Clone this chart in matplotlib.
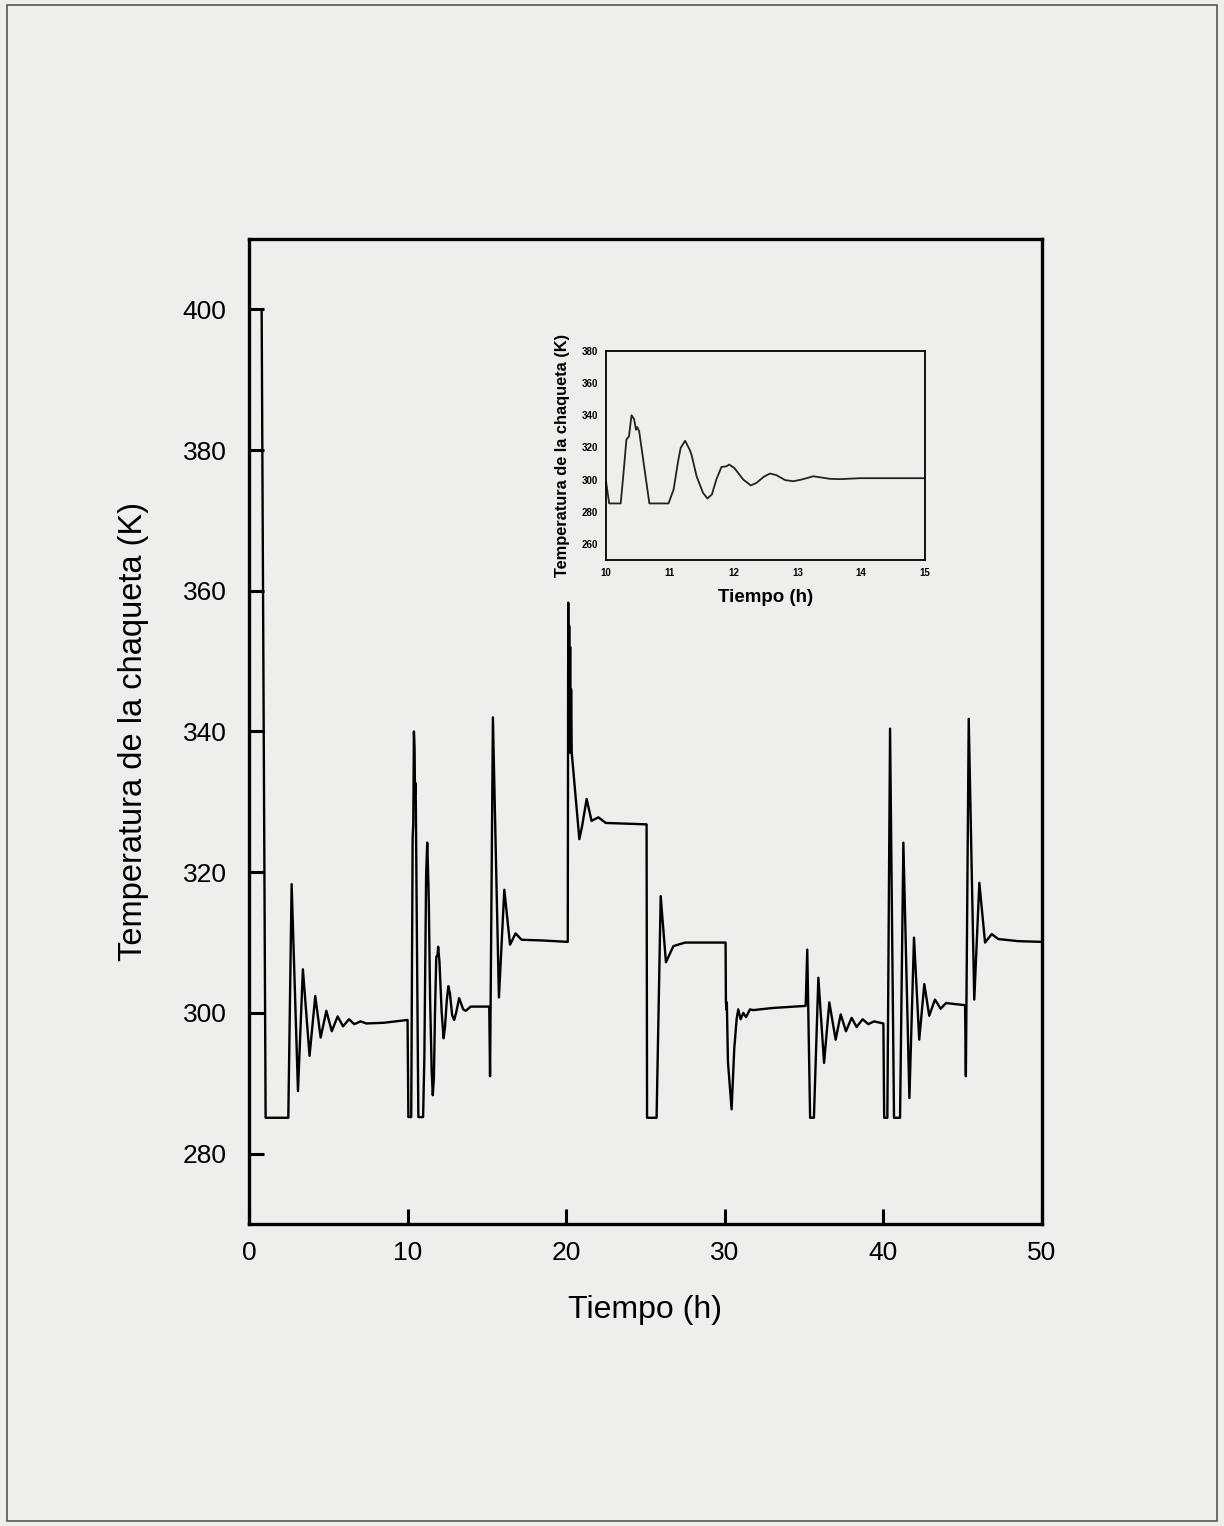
import matplotlib
matplotlib.use("Agg")
import matplotlib.pyplot as plt
from matplotlib.patches import Rectangle

plt.rcParams['font.family'] = ['Liberation Sans', 'DejaVu Sans']

# temperatura de la chaqueta (K), por tramos de 5 h
tiempo = [
    0.0, 0.8, 1.05, 2.48, 2.69, 3.09, 3.40, 3.82, 4.18, 4.52, 4.88, 5.22, 5.59, 5.93, 6.31, 6.64, 7.04, 7.4, 8.5, 10.0,
    10.05, 10.23, 10.27, 10.32, 10.36, 10.40, 10.44, 10.47, 10.49, 10.52, 10.68, 10.98, 11.06, 11.13, 11.17, 11.24,
    11.31, 11.34, 11.42, 11.52, 11.59, 11.66, 11.73, 11.81, 11.89, 11.93, 12.01, 12.15, 12.27, 12.36, 12.47, 12.57,
    12.67, 12.81, 12.94, 13.07, 13.25, 13.35, 13.51, 13.67, 13.98, 15.15,
    15.2, 15.38, 15.76, 16.1, 16.46, 16.81, 17.19, 18.5, 20.1,
    20.13, 20.16, 20.19, 20.22, 20.25, 20.28, 20.31, 20.35, 20.83, 21.0, 21.29, 21.6, 22.03, 22.5, 25.07,
    25.1, 25.7, 25.96, 26.29, 26.76, 27.5, 30.05,
    30.07, 30.1, 30.13, 30.2, 30.43, 30.6, 30.75, 30.85, 31.0, 31.17, 31.34, 31.59, 31.8, 33.0, 35.1,
    35.2, 35.38, 35.62, 35.9, 36.26, 36.59, 36.99, 37.31, 37.64, 38.0, 38.31, 38.69, 39.05, 39.41, 40.0,
    40.05, 40.25, 40.42, 40.67, 41.05, 41.26, 41.64, 41.93, 42.26, 42.58, 42.89, 43.25, 43.61, 43.95, 45.15,
    45.2, 45.38, 45.73, 46.05, 46.41, 46.83, 47.25, 48.5, 50.0,
]
temperatura = [
    400.0, 400.0, 285.1, 285.1, 318.3, 288.9, 306.2, 293.9, 302.4, 296.5, 300.3, 297.4, 299.5, 298.1, 299.1, 298.4, 298.8, 298.5, 298.6, 299.0,
    285.2, 285.2, 302.0, 324.9, 326.9, 340.0, 337.7, 331.0, 332.7, 330.0, 285.2, 285.2, 293.9, 311.4, 319.7, 324.2,
    318.7, 315.6, 302.1, 291.8, 288.3, 290.8, 300.1, 307.9, 308.3, 309.4, 307.3, 300.1, 296.4, 298.0, 301.7, 303.8,
    302.8, 299.7, 299.0, 300.1, 302.1, 301.5, 300.5, 300.3, 300.9, 300.9,
    291.0, 342.0, 302.2, 317.5, 309.7, 311.3, 310.4, 310.3, 310.1,
    358.3, 337.0, 355.0, 338.0, 352.0, 337.0, 346.0, 337.0, 324.7, 326.5, 330.4, 327.3, 327.8, 327.0, 326.8,
    285.1, 285.1, 316.6, 307.2, 309.5, 310.0, 310.0,
    301.7, 300.5, 301.5, 293.0, 286.3, 295.0, 299.2, 300.5, 299.1, 300.0, 299.4, 300.5, 300.4, 300.7, 301.0,
    309.0, 285.1, 285.1, 305.0, 292.9, 301.5, 296.2, 299.8, 297.4, 299.3, 298.0, 299.1, 298.4, 298.8, 298.5,
    285.1, 285.1, 340.4, 285.1, 285.1, 324.2, 287.9, 310.7, 296.2, 304.1, 299.6, 301.9, 300.6, 301.4, 301.1,
    291.0, 341.8, 301.9, 318.5, 310.0, 311.2, 310.5, 310.2, 310.1,
]

x_ticks = [0, 10, 20, 30, 40, 50]
y_ticks = [280, 300, 320, 340, 360, 380, 400]
inset_x_ticks = [10, 11, 12, 13, 14, 15]
inset_y_ticks = [260, 280, 300, 320, 340, 360, 380]

paper = '#eeeeec'

fig = plt.figure(figsize=(12.24, 15.26), dpi=100, facecolor=paper)
# borde del escaneo
fig.patches.append(Rectangle((0.006, 0.003), 0.988, 0.994, transform=fig.transFigure,
                             fill=False, edgecolor='#555555', linewidth=1.2))

ax = fig.add_axes([0.2034, 0.1979, 0.6479, 0.6455])
ax.set_facecolor(paper)
ax.plot(tiempo, temperatura, color='black', linewidth=1.7)
ax.set_xlim(0, 50)
ax.set_ylim(270, 410)
ax.set_xticks(x_ticks)
ax.set_yticks(y_ticks)
ax.tick_params(direction='in', length=11, width=2.2, labelsize=19, pad=16,
               top=False, right=False)
ax.tick_params(axis='x', pad=12)
for s in ax.spines.values():
    s.set_linewidth(2.4)
ax.set_xlabel('Tiempo (h)', fontsize=23, labelpad=22)
ax.set_ylabel('Temperatura de la chaqueta (K)', fontsize=23.5, labelpad=24)

# grafico insertado: detalle de 10 a 15 h
ins = fig.add_axes([0.4951, 0.6330, 0.2606, 0.1370])
ins.set_facecolor(paper)
ins.plot(tiempo, temperatura, color='#222222', linewidth=1.3)
ins.set_xlim(10, 15)
ins.set_ylim(250, 380)
ins.set_xticks(inset_x_ticks)
ins.set_yticks(inset_y_ticks)
ins.tick_params(length=0, labelsize=7, pad=6)
for lab in ins.get_xticklabels() + ins.get_yticklabels():
    lab.set_fontweight('bold')
for s in ins.spines.values():
    s.set_linewidth(1.3)
ins.set_xlabel('Tiempo (h)', fontsize=13.5, fontweight='bold', labelpad=8)
ins.set_ylabel('Temperatura de la chaqueta (K)', fontsize=11.8, fontweight='bold', labelpad=8)

fig.savefig('out.png', dpi=100, facecolor=paper)
